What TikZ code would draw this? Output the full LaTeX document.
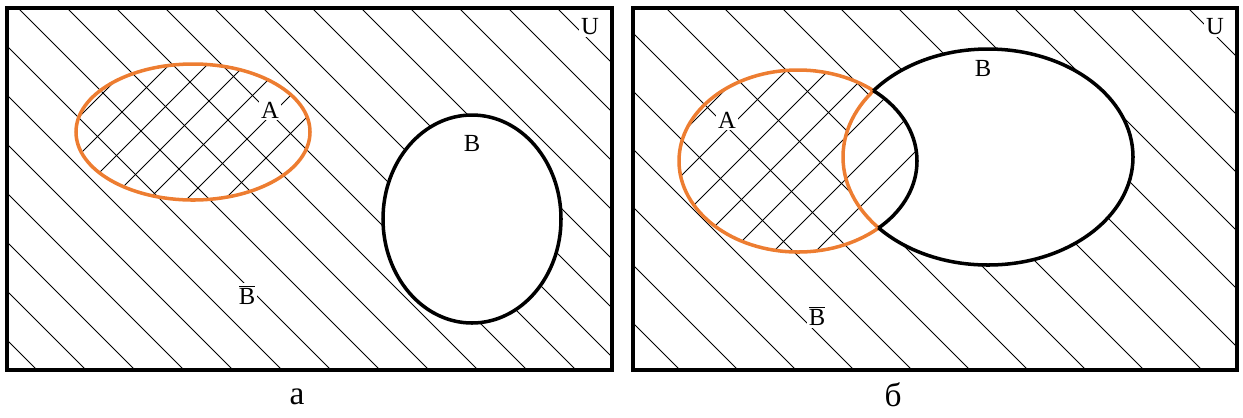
\documentclass[tikz,border=0pt]{standalone}
\usepackage{fontspec}
\setmainfont{Liberation Serif}
\begin{document}
\begin{tikzpicture}[x=0.02cm, y=-0.02cm]
    \definecolor{borderColour}{HTML}{000000}
    \definecolor{setColourA}{HTML}{ED7D31}

    \tikzset{
        hatch/.style={borderColour, line width=0.45pt},
        outline/.style={line width=2pt},
        frame/.style={draw=borderColour, line width=2pt},
        setlabel/.style={fill=white, inner sep=1pt, font=\fontsize{14}{16}\selectfont},
        caption/.style={inner sep=0pt, font=\fontsize{19}{21}\selectfont}
    }

    \useasboundingbox (0,0) rectangle (1243,417);

    % ---------- Panel a ----------
    \coordinate (Ua1) at (7,8);
    \coordinate (Ua2) at (612,370);
    \coordinate (Aa) at (193,132);
    \coordinate (Ba) at (472,219);

    % Hatch everything outside B
    \begin{scope}[even odd rule]
        \clip (Ua1) rectangle (Ua2) (Ba) ellipse [x radius=89, y radius=104];
        \foreach \c in {-333,-284,...,560}
            \draw[hatch] (\c-20,-20) -- (\c+420,420);
    \end{scope}

    % Cross hatch inside A
    \begin{scope}
        \clip (Aa) ellipse [x radius=117, y radius=68];
        \foreach \d in {196,234,...,470}
            \draw[hatch] (\d+20,-20) -- (\d-420,420);
    \end{scope}

    % Sets A and B
    \draw[outline, setColourA] (Aa) ellipse [x radius=117, y radius=68];
    \draw[outline, borderColour] (Ba) ellipse [x radius=89, y radius=104];
    \draw[frame] (Ua1) rectangle (Ua2);

    \node[setlabel] (lblAa) at (270,110) {A};
    \node[setlabel] (lblBa) at (472,143) {B};
    \node[setlabel] (lblNotBa) at (247,295) {$\overline{\hbox{B}}$};
    \node[setlabel] (lblUa) at (590,27) {U};
    \node[caption] (capa) at (297,397) {а};

    % ---------- Panel b ----------
    \coordinate (Ub1) at (633,8);
    \coordinate (Ub2) at (1237,370);
    \coordinate (Ab) at (798,161);
    \coordinate (Bb) at (988,157);

    % Hatch everything outside B
    \begin{scope}[even odd rule]
        \clip (Ub1) rectangle (Ub2) (Bb) ellipse [x radius=145, y radius=108];
        \foreach \c in {310,368,...,1230}
            \draw[hatch] (\c-20,-20) -- (\c+420,420);
    \end{scope}

    % Hatch all of A, the part inside B too
    \begin{scope}
        \clip (Ab) ellipse [x radius=119, y radius=91];
        \foreach \d in {815,857,...,1110}
            \draw[hatch] (\d+20,-20) -- (\d-420,420);
    \end{scope}

    % A without B: orange outline
    \begin{scope}[even odd rule]
        \clip (Ub1) rectangle (Ub2) (Bb) ellipse [x radius=145, y radius=108];
        \draw[outline, setColourA] (Ab) ellipse [x radius=119, y radius=91];
    \end{scope}
    \begin{scope}
        \clip (Ab) ellipse [x radius=119, y radius=91];
        \draw[outline, setColourA] (Bb) ellipse [x radius=145, y radius=108];
    \end{scope}

    % B without A: black outline
    \begin{scope}[even odd rule]
        \clip (Ub1) rectangle (Ub2) (Ab) ellipse [x radius=119, y radius=91];
        \draw[outline, borderColour] (Bb) ellipse [x radius=145, y radius=108];
    \end{scope}
    \begin{scope}
        \clip (Bb) ellipse [x radius=145, y radius=108];
        \draw[outline, borderColour] (Ab) ellipse [x radius=119, y radius=91];
    \end{scope}
    \draw[frame] (Ub1) rectangle (Ub2);

    \node[setlabel] (lblAb) at (727,120) {A};
    \node[setlabel] (lblBb) at (983,68) {B};
    \node[setlabel] (lblNotBb) at (817,316) {$\overline{\hbox{B}}$};
    \node[setlabel] (lblUb) at (1215,27) {U};
    \node[caption] (capb) at (893,395) {б};

\end{tikzpicture}
\end{document}
